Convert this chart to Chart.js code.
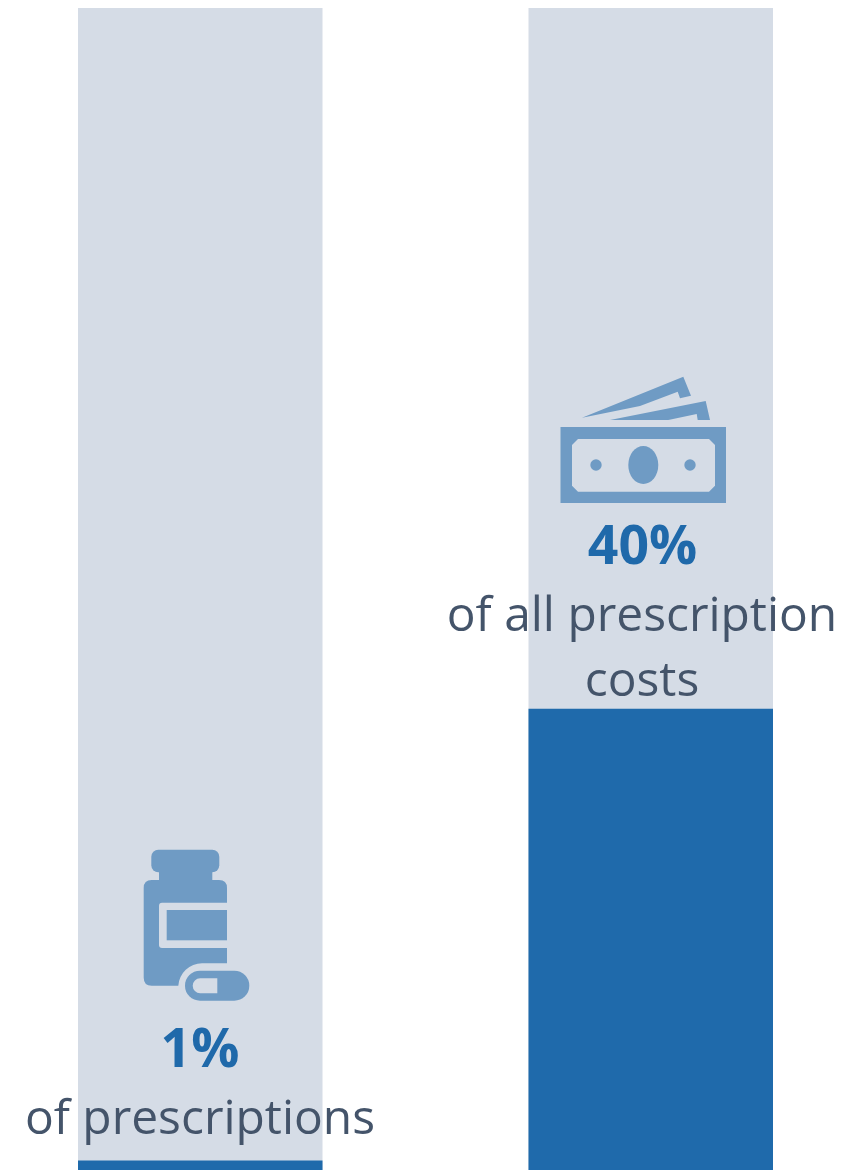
<!DOCTYPE html>
<html>
<head>
<meta charset="utf-8">
<script src="https://cdn.jsdelivr.net/npm/chart.js@4"></script>
<style>
  html, body { margin: 0; padding: 0; background: #fff; }
  #page { position: relative; width: 851px; height: 1170px; overflow: hidden; }
  /* canvas is wider than the page so the two category centres land at 200 and 650 */
  #wrap { position: absolute; left: -25px; top: 0; width: 901px; height: 1172px; }
  #icons { position: absolute; left: 0; top: 0; }
  .lbl { position: absolute; transform: translateX(-50%); white-space: nowrap; font-family: "Open Sans", sans-serif; line-height: 1; }
  .big { font-size: 53.5px; font-weight: 700; color: #1f69aa; }
  .txt { font-size: 47.9px; font-weight: 400; color: #44546a; }
</style>
</head>
<body>
<div id="page">
  <div id="wrap"><canvas id="grafico"></canvas></div>
  <svg id="icons" width="851" height="1170" viewBox="0 0 851 1170">
    <g fill="#6f9bc4">
      <!-- billetes -->
      <polygon points="582,417.7 683.3,376.7 691,395.7 680,398.3 677.7,391.7 640,406"/>
      <polygon points="610,420 705.7,401 710,420 697.7,420 696.7,414 668.3,420"/>
      <rect x="560.5" y="427" width="165.5" height="76"/>
      <polygon fill="#d5dce6" points="578,439 709,439 715,445 715,485.700 709,491.700 578,491.700 572,485.700 572,445"/>
      <ellipse cx="643.300" cy="465" rx="15" ry="19"/>
      <circle cx="596" cy="465" r="5.700"/>
      <circle cx="690" cy="465" r="5.700"/>
      <!-- frasco -->
      <rect x="151.300" y="849.700" width="68" height="22.600" rx="7"/>
      <rect x="159" y="870" width="53.300" height="12"/>
      <path d="M151.700 880H219Q227 880 227 888V963.300H202A24 24 0 0 0 178.300 985.700H151.700Q143.700 985.700 143.700 977.700V888Q143.700 880 151.700 880Z"/>
      <path fill="#d5dce6" d="M227 902.700H162Q159 902.700 159 905.700V945Q159 948 162 948H227Z"/>
      <rect x="166.700" y="910" width="60.300" height="30.300"/>
      <rect x="185" y="970.700" width="64.300" height="30" rx="15"/>
      <path fill="#d5dce6" d="M217.300 978.300H200.200A7.500 7.500 0 0 0 200.200 993.300H217.300Z"/>
    </g>
  </svg>
  <div class="lbl big" id="v0" style="left:200px;top:1020px"></div>
  <div class="lbl txt" id="t0" style="left:200px;top:1092px"></div>
  <div class="lbl big" id="v1" style="left:642.500px;top:517px"></div>
  <div class="lbl txt" id="t1" style="left:642px;top:589px"></div>
  <div class="lbl txt" id="t2" style="left:642px;top:654px"></div>
</div>
<script>
const categorias = ["of prescriptions", "of all prescription costs"];
const valores = [1, 40];
const fondo = [100.5, 100.5];
const etiquetas = ["1%", "40%"];

document.getElementById("v0").textContent = etiquetas[0];
document.getElementById("v1").textContent = etiquetas[1];
document.getElementById("t0").textContent = "of prescriptions";
document.getElementById("t1").textContent = "of all prescription";
document.getElementById("t2").textContent = "costs";

const ctx = document.getElementById("grafico").getContext("2d");

new Chart(ctx, {
  type: 'bar',
  data: {
    labels: categorias,
    datasets: [
      { data: valores, backgroundColor: '#1f6aab', order: 1 },
      { data: fondo, backgroundColor: '#d5dce6', order: 2 }
    ]
  },
  options: {
    responsive: true,
    maintainAspectRatio: false,
    animation: false,
    layout: { padding: { top: 8 } },
    datasets: { bar: { grouped: false, categoryPercentage: 1, barPercentage: 244.500 / 450.500 } },
    plugins: { legend: { display: false }, tooltip: { enabled: false } },
    scales: {
      x: { display: false },
      y: { display: false, min: 0, max: 100.5 }
    }
  }
});
</script>
</body>
</html>
